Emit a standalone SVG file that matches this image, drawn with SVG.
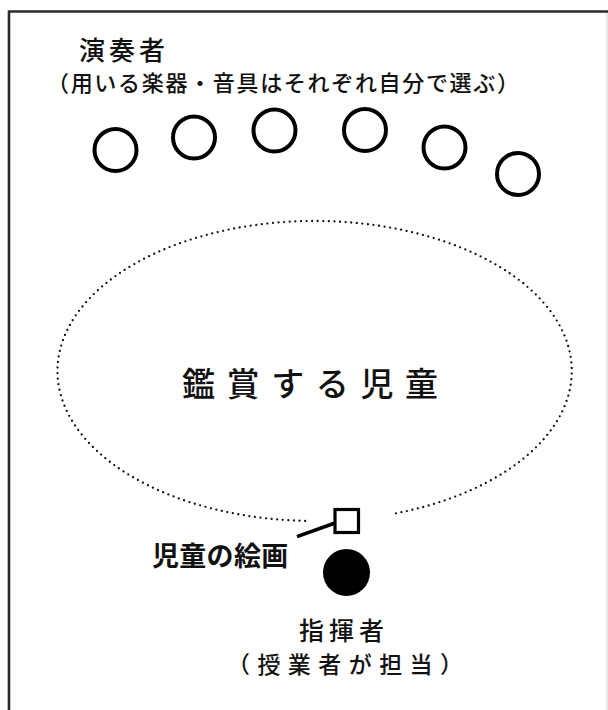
<svg xmlns="http://www.w3.org/2000/svg" width="608" height="710" viewBox="0 0 608 710">
  <style>
    text { font-family: "Noto Sans CJK JP", "Noto Sans CJK SC", sans-serif; fill: #111; font-weight: 500; }
    text.bold { font-weight: 700; }
    .player { fill: none; stroke: #000; stroke-width: 4; }
    .dotted { fill: none; stroke: #111; stroke-width: 2.3; stroke-linecap: round; stroke-dasharray: 0 5.6; }
  </style>
  <rect x="0" y="0" width="608" height="710" fill="#fff"/>
  <g id="frame">
    <path d="M9,710 V11.5 H608" fill="none" stroke="#2a2a2a" stroke-width="2.6"/>
    <line x1="607" y1="13" x2="607" y2="710" stroke="#cfcfcf" stroke-width="1"/>
  </g>
  <g id="performers-label">
    <text x="79" y="60" font-size="26" letter-spacing="4">演奏者</text>
    <text x="47" y="90.5" font-size="22" textLength="472" lengthAdjust="spacing">（用いる楽器・音具はそれぞれ自分で選ぶ）</text>
  </g>
  <g id="performer-1"><circle class="player" cx="115.5" cy="150" r="21"/></g>
  <g id="performer-2"><circle class="player" cx="194" cy="137.5" r="21"/></g>
  <g id="performer-3"><circle class="player" cx="274.5" cy="130.5" r="21"/></g>
  <g id="performer-4"><circle class="player" cx="365" cy="130" r="21"/></g>
  <g id="performer-5"><circle class="player" cx="444.5" cy="147.5" r="21"/></g>
  <g id="performer-6"><circle class="player" cx="518" cy="174" r="21"/></g>
  <g id="audience">
    <path class="dotted" d="M305.1,520.9 A257,150 0 0 1 315,221 A257,150 0 0 1 391.8,514.1"/>
    <text x="182" y="396" font-size="33" letter-spacing="11.6">鑑賞する児童</text>
  </g>
  <g id="connectors">
    <line x1="297" y1="536.7" x2="335" y2="523" stroke="#000" stroke-width="3.5"/>
  </g>
  <g id="painting">
    <rect x="335" y="509.5" width="23.5" height="23" fill="#fff" stroke="#000" stroke-width="3.2"/>
    <text class="bold" x="152" y="566" font-size="27" letter-spacing="0.3">児童の絵画</text>
  </g>
  <g id="conductor">
    <circle cx="346.5" cy="572.5" r="23.5" fill="#000"/>
    <text x="299" y="640" font-size="25" letter-spacing="5">指揮者</text>
    <text x="227" y="672.5" font-size="23" textLength="236" lengthAdjust="spacing">（授業者が担当）</text>
  </g>
</svg>
